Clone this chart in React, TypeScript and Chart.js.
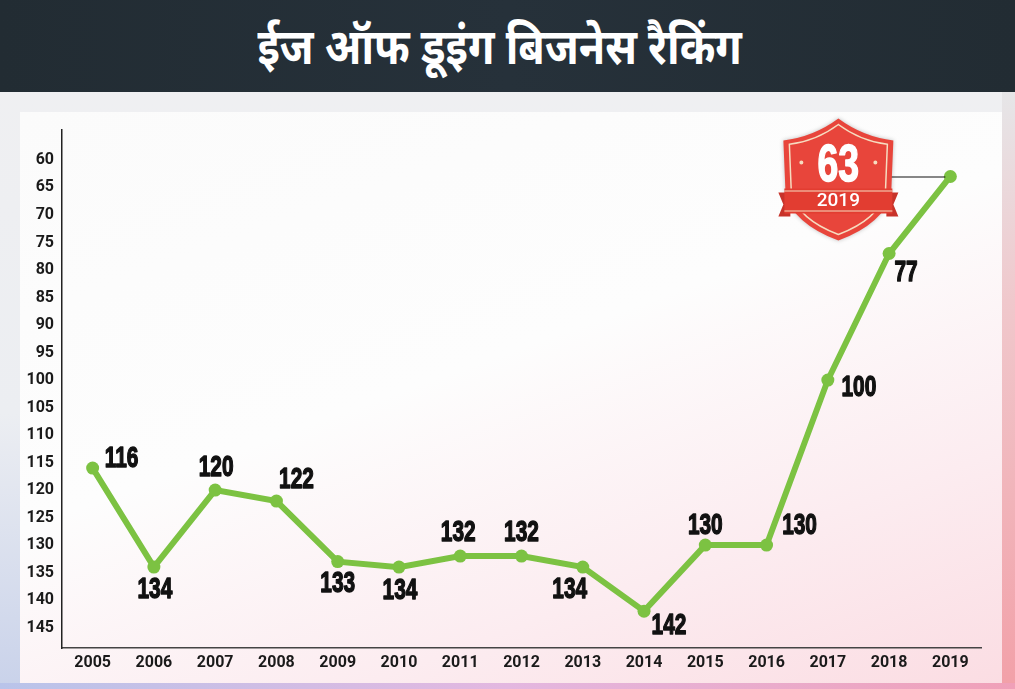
import React, { useEffect, useRef } from "react";
import { Chart, registerables } from "chart.js";

Chart.register(...registerables);

const TITLE = "ईज ऑफ डूइंग बिजनेस रैकिंग";
const years = ["2005", "2006", "2007", "2008", "2009", "2010", "2011", "2012", "2013", "2014", "2015", "2016", "2017", "2018", "2019"];
const ranks = [116, 134, 120, 122, 133, 134, 132, 132, 134, 142, 130, 130, 100, 77, 63];
const yTicks = [60, 65, 70, 75, 80, 85, 90, 95, 100, 105, 110, 115, 120, 125, 130, 135, 140, 145];
const badgeYear = "2019";
// label offsets (dx, dy) from each point, styling only
const labelDx = [29, 1, 1, 20, 0, 1, -2, 0, -13, 25, 0, 33, 31, 17, 0];
const labelDy = [-9, 23, -22, -21, 22, 24, -23, -23, 23, 15, -19, -19, 8, 19, 0];

const GREEN = "#7cc242";
const NARROW = 'bold 29px "Liberation Sans", Arial, sans-serif';

function narrowText(ctx: CanvasRenderingContext2D, t: string, x: number, y: number, sx: number, stroke: number) {
  ctx.save();
  ctx.translate(x, y);
  ctx.scale(sx, 1);
  if (stroke > 0) {
    ctx.lineWidth = stroke;
    ctx.lineJoin = "round";
    ctx.strokeStyle = ctx.fillStyle as string;
    ctx.strokeText(t, 0, 0);
  }
  ctx.fillText(t, 0, 0);
  ctx.restore();
}

function shieldPath(ctx: CanvasRenderingContext2D, cx: number, top: number, w: number, h: number) {
  const hw = w / 2;
  ctx.beginPath();
  ctx.moveTo(cx, top);
  ctx.quadraticCurveTo(cx - hw * 0.45, top + h * 0.15, cx - hw, top + h * 0.18);
  ctx.lineTo(cx - hw * 0.96, top + h * 0.62);
  ctx.quadraticCurveTo(cx - hw * 0.82, top + h * 0.86, cx, top + h);
  ctx.quadraticCurveTo(cx + hw * 0.82, top + h * 0.86, cx + hw * 0.96, top + h * 0.62);
  ctx.lineTo(cx + hw, top + h * 0.18);
  ctx.quadraticCurveTo(cx + hw * 0.45, top + h * 0.15, cx, top);
  ctx.closePath();
}

const overlayPlugin = {
  id: "overlay",
  afterDatasetsDraw(chart: any) {
    const ctx: CanvasRenderingContext2D = chart.ctx;
    const meta = chart.getDatasetMeta(0);
    const pts = meta.data;
    ctx.save();
    // data labels
    ctx.fillStyle = "#111111";
    ctx.font = NARROW;
    ctx.textAlign = "center";
    ctx.textBaseline = "middle";
    for (let i = 0; i < pts.length - 1; i++) {
      const p = pts[i];
      narrowText(ctx, String(ranks[i]), p.x + labelDx[i], p.y + labelDy[i], 0.72, 1.4);
    }
    // badge for last point
    const last = pts[pts.length - 1];
    const cx = last.x - 112;
    const top = last.y - 58;
    // connector
    ctx.strokeStyle = "#111";
    ctx.lineWidth = 1.2;
    ctx.beginPath();
    ctx.moveTo(cx + 52, last.y + 0.5);
    ctx.lineTo(last.x - 5, last.y + 0.5);
    ctx.stroke();
    // shield
    ctx.shadowColor = "rgba(0,0,0,0.25)";
    ctx.shadowBlur = 4;
    ctx.fillStyle = "#e8453b";
    shieldPath(ctx, cx, top, 110, 122);
    ctx.fill();
    ctx.shadowBlur = 0;
    ctx.strokeStyle = "#f6dcc0";
    ctx.lineWidth = 1.5;
    shieldPath(ctx, cx, top + 6, 98, 110);
    ctx.stroke();
    // stars
    ctx.fillStyle = "#f6dcc0";
    ctx.beginPath();
    ctx.arc(cx - 37, top + 44, 2, 0, Math.PI * 2);
    ctx.arc(cx + 37, top + 44, 2, 0, Math.PI * 2);
    ctx.fill();
    // 63
    ctx.fillStyle = "#ffffff";
    ctx.font = 'bold 52px "Liberation Sans", Arial, sans-serif';
    narrowText(ctx, String(ranks[ranks.length - 1]), cx, top + 48, 0.72, 1.5);
    // banner tails
    ctx.fillStyle = "#c7332a";
    ctx.beginPath();
    ctx.moveTo(cx - 60, top + 74);
    ctx.lineTo(cx - 48, top + 74);
    ctx.lineTo(cx - 48, top + 98);
    ctx.lineTo(cx - 60, top + 98);
    ctx.lineTo(cx - 55, top + 86);
    ctx.closePath();
    ctx.moveTo(cx + 60, top + 74);
    ctx.lineTo(cx + 48, top + 74);
    ctx.lineTo(cx + 48, top + 98);
    ctx.lineTo(cx + 60, top + 98);
    ctx.lineTo(cx + 55, top + 86);
    ctx.closePath();
    ctx.fill();
    // banner
    ctx.fillStyle = "#e23d31";
    ctx.fillRect(cx - 54, top + 70, 108, 25);
    ctx.strokeStyle = "#f6dcc0";
    ctx.lineWidth = 1.2;
    ctx.beginPath();
    ctx.moveTo(cx - 54, top + 72.5);
    ctx.lineTo(cx + 54, top + 72.5);
    ctx.moveTo(cx - 54, top + 92.5);
    ctx.lineTo(cx + 54, top + 92.5);
    ctx.stroke();
    ctx.fillStyle = "#ffffff";
    ctx.font = '500 19px Roboto, "DejaVu Sans", sans-serif';
    ctx.fillText(badgeYear, cx, top + 83);
    ctx.restore();
  },
};

export default function App() {
  const ref = useRef<HTMLCanvasElement>(null);
  useEffect(() => {
    if (!ref.current) return;
    const chart = new Chart(ref.current, {
      type: "line",
      data: {
        labels: years,
        datasets: [
          {
            data: ranks,
            borderColor: GREEN,
            backgroundColor: GREEN,
            borderWidth: 6,
            pointRadius: 6.5,
            pointBackgroundColor: GREEN,
            pointBorderWidth: 0,
            tension: 0,
          },
        ],
      },
      options: {
        animation: false,
        responsive: false,
        maintainAspectRatio: false,
        layout: { padding: { left: 0, top: 130, right: 34, bottom: 0 } },
        plugins: { legend: { display: false }, tooltip: { enabled: false } },
        scales: {
          x: {
            type: "category",
            offset: true,
            grid: { display: false, drawTicks: false },
            border: { display: true, color: "#444", width: 1.5 },
            ticks: {
              color: "#1a1a1a",
              font: { family: "Roboto, 'DejaVu Sans', sans-serif", size: 16, weight: "bold" },
              padding: 5,
              maxRotation: 0,
              autoSkip: false,
            },
            afterFit: (s: any) => {
              s.height = 41;
            },
          },
          y: {
            reverse: true,
            min: 54.55,
            max: 148.7,
            grid: { display: false, drawTicks: false },
            border: { display: true, color: "#222", width: 1.5 },
            afterBuildTicks: (s: any) => {
              s.ticks = yTicks.map((v) => ({ value: v }));
            },
            ticks: {
              color: "#1a1a1a",
              font: { family: "Roboto, 'DejaVu Sans', sans-serif", size: 16, weight: "bold" },
              padding: 8,
              callback: (v: any) => String(v),
            },
            afterFit: (s: any) => {
              s.width = 62;
            },
          },
        },
      },
      plugins: [overlayPlugin],
    });
    return () => chart.destroy();
  }, []);

  return (
    <div
      style={{
        position: "absolute",
        left: 0,
        top: 0,
        width: 1015,
        height: 689,
        overflow: "hidden",
        background: "linear-gradient(to bottom, #f0f0f2 0%, #eceef2 60%, #c9d2ea 100%)",
      }}
    >
      <div
        style={{
          position: "absolute",
          left: 0,
          top: 0,
          width: 1015,
          height: 92,
          background: "linear-gradient(to right, #222c33, #26313a 50%, #222c33)",
        }}
      />
      <div
        style={{
          position: "absolute",
          left: 0,
          top: 8,
          width: 1000,
          height: 86,
          display: "flex",
          alignItems: "center",
          justifyContent: "center",
          color: "#ffffff",
          fontFamily: "'Noto Sans Devanagari', 'Noto Sans', sans-serif",
          fontWeight: 700,
          fontSize: 50,
        }}
      >
        <span style={{ display: "inline-block", transform: "scaleX(0.86)" }}>{TITLE}</span>
      </div>
      <div
        style={{
          position: "absolute",
          left: 1002,
          top: 92,
          width: 13,
          height: 597,
          background: "linear-gradient(to bottom, #e6e6e8 0%, #f0c8cc 35%, #f2a0a8 100%)",
        }}
      />
      <div
        style={{
          position: "absolute",
          left: 0,
          top: 683,
          width: 1015,
          height: 6,
          background: "linear-gradient(to right, #b9c4ea, #e3b7e0 50%, #f0a0b8)",
        }}
      />
      <div
        style={{
          position: "absolute",
          left: 20,
          top: 112,
          width: 982,
          height: 571,
          background: "linear-gradient(160deg, #fbfbfb 0%, #fdfdfd 45%, #fcecf0 75%, #fbdde3 100%)",
        }}
      />
      <canvas ref={ref} width={1015} height={689} style={{ position: "absolute", left: 0, top: 0 }} />
    </div>
  );
}
